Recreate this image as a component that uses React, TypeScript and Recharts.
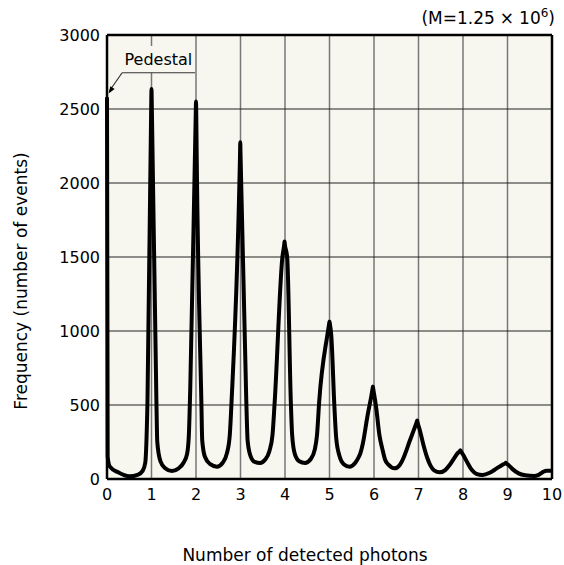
import React from 'react';
import {
  LineChart,
  Line,
  XAxis,
  YAxis,
  CartesianGrid,
  ReferenceLine,
  ReferenceArea,
  ReferenceDot,
} from 'recharts';

// pulse-height spectrum (x = photons, y = events)
const photonPos = [
  0, 0.015, 0.06, 0.25, 0.5, 0.7, 0.8, 0.86,
  0.91, 0.995, 1.0, 1.005, 1.11, 1.13, 1.2, 1.3, 1.46, 1.6, 1.72, 1.8, 1.84,
  1.87, 1.995, 2.0, 2.005, 2.015, 2.12, 2.14, 2.2, 2.32, 2.47, 2.6, 2.7, 2.76,
  2.8, 2.99, 2.995, 3.0, 3.13, 3.16, 3.22, 3.32, 3.44, 3.55, 3.65, 3.72,
  3.77, 3.94, 3.985, 3.99, 3.995, 4.05, 4.13, 4.16, 4.22, 4.32, 4.45, 4.58, 4.67, 4.72,
  4.77, 4.95, 4.995, 5.0, 5.005, 5.04, 5.11, 5.15, 5.22, 5.32, 5.45, 5.58, 5.66, 5.7, 5.75,
  5.85, 5.97, 5.975, 5.98, 6.05, 6.12, 6.19, 6.25, 6.33, 6.46, 6.58, 6.66,
  6.7, 6.8, 6.9, 6.965, 6.97, 6.975, 7.03, 7.12, 7.2, 7.27, 7.35, 7.48, 7.6, 7.7, 7.8,
  7.88, 7.935, 7.94, 7.945, 8.0, 8.1, 8.2, 8.3, 8.44, 8.6, 8.75,
  8.88, 8.955, 8.96, 8.965, 9.02, 9.12, 9.25, 9.4, 9.6, 9.7, 9.8, 9.88, 10,
];
const eventCount = [
  2580, 150, 85, 45, 18, 30, 55, 110,
  530, 2560, 2635, 2560, 530, 250, 120, 75, 54, 70, 110, 170, 300,
  600, 2480, 2550, 2480, 2200, 530, 260, 150, 100, 83, 110, 180, 300,
  530, 2200, 2275, 2200, 530, 260, 160, 115, 108, 130, 190, 300,
  530, 1495, 1590, 1605, 1590, 1495, 530, 300, 170, 120, 108, 135, 200, 300,
  530, 970, 1055, 1065, 1055, 970, 490, 280, 160, 100, 83, 110, 150, 180, 241,
  420, 615, 625, 615, 480, 300, 200, 130, 95, 72, 95, 140,
  170, 255, 335, 390, 395, 388, 330, 220, 140, 90, 58, 45, 60, 95, 140,
  175, 192, 195, 192, 165, 110, 60, 35, 27, 42, 70,
  95, 108, 110, 108, 95, 65, 38, 25, 20, 28, 48, 56, 56,
];

const xTicks = [0, 1, 2, 3, 4, 5, 6, 7, 8, 9, 10];
const yTicks = [0, 500, 1000, 1500, 2000, 2500, 3000];

const data = photonPos.map((x, i) => ({ x, y: eventCount[i] }));

const FONT = '"DejaVu Sans", Verdana, sans-serif';
const BG = '#f7f6ef';

// small arrow head pointing down-left at the pedestal
const ArrowHead = (props: any) => {
  const { cx, cy } = props;
  if (cx == null || cy == null) return null;
  const ang = Math.atan2(20.6, -13.7);
  const len = 7;
  const w = 2.6;
  const bx = cx - Math.cos(ang) * len;
  const by = cy - Math.sin(ang) * len;
  const px = -Math.sin(ang) * w;
  const py = Math.cos(ang) * w;
  return (
    <polygon
      points={`${cx},${cy} ${bx + px},${by + py} ${bx - px},${by - py}`}
      fill="#000"
    />
  );
};

export default function App() {
  return (
    <div style={{ position: 'absolute', left: 0, top: 0, width: 564, height: 565, background: '#fff', fontFamily: FONT }}>
      <LineChart
        width={564}
        height={565}
        data={data}
        margin={{ top: 35, right: 12, bottom: 56, left: 0 }}
      >
        <CartesianGrid fill={BG} fillOpacity={1} horizontal={false} stroke="#777" strokeWidth={1.5} />
        <CartesianGrid vertical={false} stroke="#222" strokeWidth={1.2} />
        <XAxis
          dataKey="x"
          type="number"
          domain={[0, 10]}
          ticks={xTicks}
          interval={0}
          height={30}
          tickSize={0}
          tickMargin={10}
          axisLine={{ stroke: '#000', strokeWidth: 2.5 }}
          tick={{ fill: '#000', fontSize: 16, fontFamily: FONT }}
        />
        <YAxis
          type="number"
          domain={[0, 3000]}
          ticks={yTicks}
          interval={0}
          width={107}
          tickSize={0}
          tickMargin={7}
          axisLine={{ stroke: '#000', strokeWidth: 2.5 }}
          tick={{ fill: '#000', fontSize: 16, fontFamily: FONT }}
        />
        <ReferenceLine y={3000} stroke="#000" strokeWidth={2.5} />
        <ReferenceLine x={10} stroke="#000" strokeWidth={2.5} />
        <ReferenceArea
          x1={0.34}
          x2={1.97}
          y1={2745}
          y2={2925}
          fill={BG}
          fillOpacity={1}
          stroke="none"
          label={{ value: 'Pedestal', position: 'center', fontSize: 16, fill: '#000', fontFamily: FONT }}
        />
        <ReferenceLine
          segment={[{ x: 0.34, y: 2745 }, { x: 1.98, y: 2745 }]}
          stroke="#333"
          strokeWidth={1.2}
        />
        <ReferenceLine
          segment={[{ x: 0.34, y: 2745 }, { x: 0.05, y: 2620 }]}
          stroke="#333"
          strokeWidth={1.2}
        />
        <ReferenceDot x={0.036} y={2605} r={3} shape={ArrowHead} />
        <Line
          type="monotone"
          dataKey="y"
          stroke="#000"
          strokeWidth={4}
          strokeLinejoin="round"
          dot={false}
          isAnimationActive={false}
        />
      </LineChart>
      <div style={{ position: 'absolute', right: 9, top: 6, fontSize: 17, color: '#000', whiteSpace: 'nowrap' }}>
        (M=1.25<span style={{ margin: '0 5px' }}>×</span>10<sup style={{ fontSize: 12 }}>6</sup>)
      </div>
      <div style={{ position: 'absolute', left: 305, top: 555, transform: 'translate(-50%, -50%)', fontSize: 17, color: '#000', whiteSpace: 'nowrap' }}>
        Number of detected photons
      </div>
      <div style={{ position: 'absolute', left: 21, top: 281, transform: 'translate(-50%, -50%) rotate(-90deg)', fontSize: 17, color: '#000', whiteSpace: 'nowrap' }}>
        Frequency (number of events)
      </div>
    </div>
  );
}
